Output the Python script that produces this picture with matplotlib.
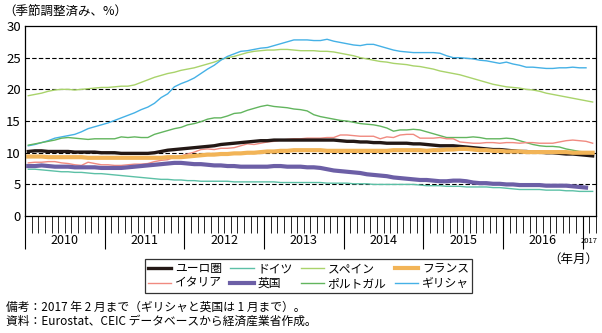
import numpy as np
import matplotlib
matplotlib.use('Agg')
import matplotlib.pyplot as plt
import matplotlib.transforms as mtransforms

plt.rcParams['font.family'] = ['Noto Sans CJK JP', 'DejaVu Sans']

# 月次失業率 (季節調整済み, %), 2010年1月〜2017年2月
years = ['2010', '2011', '2012', '2013', '2014', '2015', '2016', '2017']

euro = [10.2, 10.3, 10.3, 10.2, 10.2, 10.2, 10.2, 10.1, 10.1, 10.1, 10.1, 10.0,
        10.0, 10.0, 9.9, 9.9, 9.9, 9.9, 9.9, 10.0, 10.2, 10.4, 10.5, 10.6,
        10.7, 10.8, 10.9, 11.0, 11.1, 11.3, 11.4, 11.5, 11.6, 11.7, 11.8, 11.9,
        11.9, 12.0, 12.0, 12.0, 12.0, 12.0, 12.0, 12.0, 12.0, 12.0, 12.0, 11.9,
        11.8, 11.8, 11.7, 11.7, 11.6, 11.6, 11.5, 11.5, 11.5, 11.5, 11.4, 11.4,
        11.3, 11.2, 11.1, 11.1, 11.1, 11.0, 10.9, 10.8, 10.7, 10.6, 10.5, 10.5,
        10.4, 10.3, 10.2, 10.2, 10.1, 10.1, 10.0, 10.0, 9.9, 9.8, 9.8, 9.7,
        9.6, 9.5]

germany = [7.4, 7.4, 7.3, 7.2, 7.1, 7.0, 7.0, 6.9, 6.9, 6.8, 6.7, 6.7,
           6.6, 6.5, 6.4, 6.3, 6.2, 6.1, 6.0, 5.9, 5.8, 5.8, 5.7, 5.7,
           5.6, 5.6, 5.5, 5.5, 5.5, 5.5, 5.5, 5.4, 5.4, 5.4, 5.4, 5.4,
           5.4, 5.4, 5.3, 5.3, 5.3, 5.3, 5.3, 5.3, 5.3, 5.2, 5.2, 5.2,
           5.2, 5.1, 5.1, 5.1, 5.0, 5.0, 5.0, 5.0, 5.0, 5.0, 5.0, 4.9,
           4.8, 4.8, 4.8, 4.7, 4.7, 4.7, 4.6, 4.6, 4.6, 4.6, 4.5, 4.5,
           4.4, 4.3, 4.2, 4.2, 4.2, 4.2, 4.1, 4.1, 4.1, 4.0, 4.0, 3.9,
           3.9, 3.9]

spain = [19.0, 19.2, 19.4, 19.7, 19.9, 20.0, 20.0, 19.9, 20.0, 20.1, 20.2, 20.3,
         20.3, 20.4, 20.5, 20.5, 20.7, 21.1, 21.5, 21.9, 22.2, 22.5, 22.7, 23.0,
         23.2, 23.4, 23.7, 24.0, 24.3, 24.7, 25.0, 25.2, 25.5, 25.8, 26.0, 26.1,
         26.2, 26.2, 26.3, 26.3, 26.2, 26.1, 26.1, 26.1, 26.0, 26.0, 25.9, 25.7,
         25.5, 25.3, 25.0, 24.8, 24.6, 24.4, 24.3, 24.1, 24.0, 23.9, 23.7, 23.6,
         23.4, 23.2, 22.9, 22.7, 22.5, 22.3, 22.0, 21.7, 21.4, 21.1, 20.8, 20.6,
         20.4, 20.3, 20.2, 20.0, 19.9, 19.7, 19.4, 19.2, 19.0, 18.8, 18.6, 18.4,
         18.2, 18.0]

france = [9.4, 9.4, 9.4, 9.3, 9.3, 9.3, 9.3, 9.3, 9.3, 9.2, 9.2, 9.2,
          9.2, 9.2, 9.2, 9.2, 9.2, 9.2, 9.2, 9.2, 9.2, 9.3, 9.3, 9.3,
          9.4, 9.5, 9.6, 9.7, 9.7, 9.8, 9.8, 9.9, 9.9, 10.0, 10.0, 10.1,
          10.2, 10.2, 10.3, 10.3, 10.4, 10.4, 10.4, 10.4, 10.4, 10.3, 10.3, 10.3,
          10.3, 10.3, 10.3, 10.3, 10.3, 10.3, 10.3, 10.4, 10.4, 10.4, 10.4, 10.4,
          10.3, 10.4, 10.4, 10.5, 10.5, 10.6, 10.6, 10.5, 10.4, 10.4, 10.3, 10.3,
          10.2, 10.2, 10.2, 10.1, 10.1, 10.1, 10.1, 10.1, 10.1, 10.1, 10.0, 10.0,
          10.0, 10.0]

italy = [8.4, 8.5, 8.5, 8.6, 8.6, 8.4, 8.3, 8.1, 8.0, 8.5, 8.3, 8.1,
         8.1, 8.0, 8.0, 8.1, 8.2, 8.2, 8.3, 8.6, 8.8, 8.9, 9.3, 9.5,
         9.8, 10.1, 10.5, 10.6, 10.5, 10.7, 10.7, 10.8, 11.1, 11.4, 11.3, 11.5,
         11.7, 11.8, 12.0, 12.1, 12.2, 12.2, 12.3, 12.3, 12.3, 12.4, 12.4, 12.8,
         12.8, 12.7, 12.6, 12.6, 12.6, 12.2, 12.5, 12.4, 12.8, 12.9, 12.9, 12.3,
         12.3, 12.3, 12.4, 12.2, 12.2, 11.7, 11.6, 11.5, 11.5, 11.6, 11.6, 11.5,
         11.6, 11.6, 11.5, 11.6, 11.6, 11.5, 11.5, 11.5, 11.7, 11.9, 12.0, 11.9,
         11.8, 11.5]

uk = [7.9, 7.9, 8.0, 7.9, 7.8, 7.8, 7.8, 7.7, 7.7, 7.7, 7.7, 7.6,
      7.6, 7.6, 7.6, 7.7, 7.8, 7.9, 8.0, 8.1, 8.2, 8.3, 8.4, 8.4,
      8.3, 8.2, 8.2, 8.1, 8.0, 8.0, 7.9, 7.9, 7.8, 7.8, 7.8, 7.8,
      7.8, 7.9, 7.9, 7.8, 7.8, 7.8, 7.7, 7.7, 7.6, 7.4, 7.2, 7.1,
      7.0, 6.9, 6.8, 6.6, 6.5, 6.4, 6.3, 6.1, 6.0, 5.9, 5.8, 5.7,
      5.7, 5.6, 5.5, 5.5, 5.6, 5.6, 5.5, 5.3, 5.2, 5.2, 5.1, 5.1,
      5.0, 5.0, 4.9, 4.9, 4.9, 4.9, 4.8, 4.8, 4.8, 4.8, 4.7, 4.6,
      4.5]

portugal = [11.2, 11.4, 11.6, 11.8, 12.0, 12.3, 12.4, 12.3, 12.2, 12.1, 12.2, 12.2,
            12.2, 12.2, 12.5, 12.4, 12.5, 12.4, 12.4, 12.9, 13.2, 13.5, 13.8, 14.0,
            14.4, 14.6, 14.9, 15.3, 15.5, 15.5, 15.8, 16.2, 16.3, 16.7, 17.0, 17.3,
            17.5, 17.3, 17.2, 17.1, 16.9, 16.8, 16.6, 16.0, 15.7, 15.5, 15.3, 15.1,
            15.0, 14.8, 14.6, 14.5, 14.4, 14.2, 13.9, 13.4, 13.6, 13.6, 13.7, 13.6,
            13.3, 13.0, 12.7, 12.4, 12.4, 12.4, 12.4, 12.5, 12.4, 12.2, 12.2, 12.2,
            12.3, 12.2, 11.9, 11.6, 11.3, 11.1, 11.0, 11.0, 10.9, 10.6, 10.4, 10.2,
            10.1, 10.0]

greece = [11.1, 11.3, 11.6, 11.9, 12.3, 12.5, 12.7, 12.9, 13.3, 13.8, 14.1, 14.4,
          14.7, 15.1, 15.5, 15.9, 16.3, 16.8, 17.2, 17.8, 18.7, 19.3, 20.4, 20.9,
          21.3, 21.8, 22.5, 23.2, 23.8, 24.6, 25.2, 25.6, 26.0, 26.1, 26.3, 26.5,
          26.6, 26.9, 27.2, 27.5, 27.8, 27.8, 27.8, 27.7, 27.7, 27.9, 27.6, 27.4,
          27.2, 27.0, 26.9, 27.1, 27.1, 26.8, 26.5, 26.2, 26.0, 25.9, 25.8, 25.8,
          25.8, 25.8, 25.7, 25.3, 25.0, 25.0, 24.9, 24.8, 24.6, 24.5, 24.3, 24.1,
          24.3, 24.0, 23.8, 23.5, 23.5, 23.4, 23.3, 23.3, 23.4, 23.4, 23.5, 23.4,
          23.4]

fig = plt.figure(figsize=(6.02, 3.33), dpi=100)
ax = fig.add_axes([0.0415, 0.351, 0.9485, 0.571])

def xs(vals):
    return np.arange(len(vals)) + 0.5

ax.plot(xs(germany), germany, color='#5cc0a6', lw=1.0, label='ドイツ')
ax.plot(xs(spain), spain, color='#a9d36b', lw=1.0, label='スペイン')
ax.plot(xs(greece), greece, color='#45b1e6', lw=1.0, label='ギリシャ')
ax.plot(xs(portugal), portugal, color='#62b55e', lw=1.0, label='ポルトガル')
ax.plot(xs(italy), italy, color='#f08a80', lw=1.0, label='イタリア')
ax.plot(xs(uk), uk, color='#6c5fa6', lw=3.0, label='英国')
ax.plot(xs(euro), euro, color='#231815', lw=2.4, label='ユーロ圏')
ax.plot(xs(france), france, color='#f2b457', lw=3.0, label='フランス')

ax.set_ylim(0, 30)
ax.set_xlim(0, 86)
ax.set_yticks(range(0, 31, 5))
for v in range(5, 30, 5):
    ax.axhline(v, color='black', lw=0.8, ls=(0, (4, 2)), zorder=0)

# 月の目盛りと年の区切り
ax.set_xticks(range(0, 87, 12))
ax.set_xticks(range(0, 87), minor=True)
ax.tick_params(axis='x', which='major', length=24, width=0.8, labelbottom=False)
ax.tick_params(axis='x', which='minor', length=12, width=0.6)
ax.tick_params(axis='y', length=0, labelsize=9.5, pad=3)
for s in ax.spines.values():
    s.set_linewidth(0.9)

trans = mtransforms.blended_transform_factory(ax.transData, ax.transAxes)
for i, yr in enumerate(years):
    if yr == '2017':
        ax.text(85.0, -0.13, yr, transform=trans, ha='center', va='center',
                fontsize=5.5, stretch='condensed')
    else:
        ax.text(i * 12 + 6, -0.13, yr, transform=trans, ha='center', va='center',
                fontsize=9)

fig.text(0.993, 0.222, '（年月）', ha='right', va='center', fontsize=9)
fig.text(0.005, 0.962, '（季節調整済み、%）', ha='left', va='center', fontsize=9)

handles, labels = ax.get_legend_handles_labels()
order = ['ユーロ圏', 'イタリア', 'ドイツ', '英国', 'スペイン', 'ポルトガル', 'フランス', 'ギリシャ']
hmap = dict(zip(labels, handles))
leg = fig.legend([hmap[k] for k in order], order, ncol=4,
                 loc='center', bbox_to_anchor=(0.512, 0.171),
                 fontsize=8.5, frameon=True, fancybox=False, edgecolor='black',
                 handlelength=2.0, handletextpad=0.3, columnspacing=0.7,
                 labelspacing=0.12, borderpad=0.25, borderaxespad=0)
leg.get_frame().set_linewidth(0.9)

fig.text(0.01, 0.078, '備考：2017 年 2 月まで（ギリシャと英国は 1 月まで）。', fontsize=8.5, va='center')
fig.text(0.01, 0.035, '資料：Eurostat、CEIC データベースから経済産業省作成。', fontsize=8.5, va='center')

fig.savefig('out.png', dpi=100)
